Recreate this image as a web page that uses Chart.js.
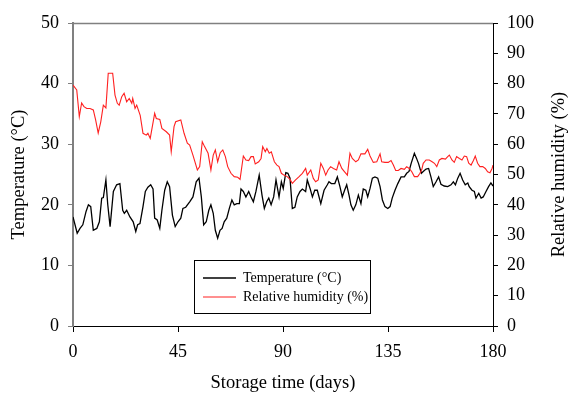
<!DOCTYPE html>
<html>
<head>
<meta charset="utf-8">
<script src="https://cdn.jsdelivr.net/npm/chart.js@4.4.1/dist/chart.umd.min.js"></script>
<style>
  html, body { margin: 0; padding: 0; background: #fff; }
  #wrap { width: 568px; height: 393px; }
</style>
</head>
<body>
<div id="wrap"><canvas id="chart" width="568" height="393"></canvas></div>
<script>
// storage time (days) and temperature (°C)
const tempDays = [
  0, 1.8, 3.0, 4.2, 5.6, 6.6, 7.6, 8.7, 10.2, 11.3,
  12.3, 13.0, 14.1, 14.9, 15.9, 17.3, 18.7, 20.1, 21.3, 22.0,
  23.0, 24.4, 25.8, 26.9, 27.7, 28.7, 30.0, 31.0, 32.1, 33.3,
  34.3, 35.0, 36.1, 37.2, 38.1, 39.3, 40.4, 41.4, 42.6, 43.8,
  45.0, 46.2, 47.1, 48.3, 50.0, 51.4, 52.8, 54.0, 55.0, 56.0,
  57.1, 58.2, 59.1, 60.1, 61.0, 62.0, 63.0, 63.9, 64.8, 65.9,
  67.0, 68.1, 69.1, 70.2, 71.3, 72.0, 73.0, 74.1, 75.3, 76.3,
  77.3, 78.4, 79.8, 81.0, 82.0, 83.0, 83.9, 84.9, 86.0, 87.0,
  88.3, 89.3, 90.1, 91.2, 92.1, 93.0, 94.0, 95.1, 96.1, 97.3,
  98.3, 99.7, 100.4, 101.6, 102.6, 103.6, 104.7, 106.2, 107.6, 109.0,
  109.7, 110.7, 112.2, 113.3, 114.4, 115.4, 116.4, 117.3, 118.3, 119.1,
  120.1, 121.2, 122.3, 123.4, 124.4, 125.5, 126.3, 127.3, 128.3, 129.4,
  130.6, 131.6, 132.6, 133.7, 134.9, 135.9, 136.8, 138.0, 139.2, 140.6,
  142.0, 143.0, 144.0, 144.9, 146.3, 147.2, 148.1, 149.3, 150.1, 151.3,
  152.4, 153.4, 154.4, 155.6, 156.7, 157.7, 159.1, 160.6, 162.0, 163.0,
  163.9, 164.9, 165.9, 167.0, 168.1, 169.2, 169.8, 171.0, 172.0, 172.7,
  173.9, 174.9, 175.8, 177.0, 178.1, 179.1, 180.0
];
const tempValues = [
  18.0, 15.3, 16.1, 16.7, 18.9, 20.0, 19.7, 15.8, 16.1, 17.2,
  21.1, 21.2, 24.1, 20.0, 16.4, 22.2, 23.3, 23.5, 19.1, 18.6,
  19.1, 18.0, 17.2, 15.6, 16.7, 16.9, 19.7, 22.2, 22.9, 23.3,
  22.6, 17.8, 17.5, 16.1, 19.1, 22.4, 23.8, 23.0, 18.3, 16.4,
  17.2, 17.8, 19.4, 19.6, 20.5, 21.3, 23.8, 24.4, 21.3, 16.7,
  17.2, 19.1, 20.0, 18.6, 15.8, 14.5, 15.8, 16.1, 17.2, 17.8,
  19.4, 20.8, 20.0, 20.2, 20.2, 22.6, 22.2, 21.3, 22.2, 21.3,
  20.5, 22.2, 24.9, 21.6, 19.4, 20.5, 21.1, 20.0, 21.3, 24.1,
  21.3, 23.8, 22.7, 25.3, 25.2, 24.4, 19.4, 19.6, 21.3, 22.2,
  22.6, 22.2, 24.1, 22.7, 21.3, 22.4, 22.4, 20.2, 22.4, 23.3,
  23.8, 23.5, 23.5, 24.6, 23.0, 21.3, 22.4, 23.3, 21.6, 20.0,
  19.1, 20.0, 21.6, 20.2, 22.6, 22.4, 21.3, 22.7, 24.4, 24.6,
  24.4, 23.0, 20.8, 19.7, 19.4, 19.7, 21.1, 22.4, 23.5, 24.6,
  24.6, 25.2, 25.5, 26.8, 28.5, 27.7, 26.8, 25.2, 25.5, 25.9,
  26.0, 24.6, 23.0, 23.8, 24.6, 23.4, 23.1, 23.0, 23.3, 23.8,
  23.3, 24.4, 25.2, 24.1, 23.3, 23.6, 23.0, 22.4, 22.2, 21.1,
  21.9, 21.1, 21.3, 22.2, 23.0, 23.6, 23.1
];

// storage time (days) and relative humidity (%)
const rhDays = [
  0, 1.6, 2.7, 3.7, 4.7, 5.9, 7.3, 8.7, 9.7, 10.8,
  11.9, 13.0, 14.1, 15.1, 17.0, 18.0, 19.0, 19.8, 20.9, 21.9,
  23.0, 24.1, 25.2, 25.6, 26.6, 27.3, 28.8, 30.0, 31.4, 32.1,
  33.1, 35.0, 35.7, 37.2, 38.1, 40.0, 41.4, 42.1, 43.3, 44.0,
  46.2, 47.6, 49.0, 50.0, 51.4, 53.3, 54.3, 55.4, 56.4, 57.9,
  59.1, 60.1, 61.0, 62.0, 63.1, 64.2, 65.3, 66.3, 67.7, 69.1,
  70.6, 71.6, 73.0, 74.1, 75.3, 76.3, 77.3, 78.1, 79.6, 80.6,
  81.3, 82.4, 83.1, 84.1, 85.0, 86.3, 87.4, 88.3, 89.3, 90.4,
  91.8, 93.0, 94.0, 95.4, 96.9, 98.3, 99.7, 100.4, 101.9, 103.0,
  104.0, 105.1, 106.2, 107.3, 108.3, 109.3, 110.4, 111.6, 113.0, 114.0,
  115.2, 116.4, 117.6, 118.7, 119.7, 121.2, 122.3, 123.4, 125.1, 126.3,
  127.3, 128.7, 130.2, 131.6, 132.3, 133.7, 135.1, 136.3, 137.3, 138.3,
  139.4, 140.6, 142.0, 143.0, 144.1, 145.2, 146.3, 147.7, 148.7, 149.5,
  150.1, 151.3, 152.7, 153.9, 154.9, 155.9, 157.0, 158.1, 159.6, 160.6,
  161.3, 162.4, 163.4, 164.4, 165.6, 166.7, 167.7, 168.7, 169.6, 170.6,
  171.6, 172.4, 173.4, 174.4, 175.6, 176.7, 177.7, 178.7, 179.6, 180.0
];
const rhValues = [
  79.5, 77.9, 69.1, 73.6, 72.4, 71.8, 71.8, 71.3, 68.0, 63.7,
  67.4, 72.9, 72.0, 83.4, 83.4, 76.2, 73.5, 72.9, 75.7, 76.8,
  74.0, 75.1, 73.5, 75.1, 71.8, 72.9, 69.5, 63.6, 63.0, 63.6,
  61.9, 70.2, 68.5, 68.2, 65.2, 64.1, 63.0, 57.5, 65.8, 67.4,
  68.0, 63.6, 60.3, 59.7, 56.4, 51.5, 52.6, 60.8, 59.2, 57.0,
  51.5, 56.4, 58.1, 54.2, 57.2, 58.1, 55.9, 52.6, 50.4, 49.3,
  49.1, 48.4, 56.1, 54.8, 54.6, 55.9, 55.9, 53.5, 54.2, 55.3,
  59.2, 57.5, 58.6, 57.0, 57.5, 54.2, 53.1, 52.6, 50.4, 49.8,
  49.3, 48.4, 47.1, 48.2, 49.3, 50.4, 52.0, 49.8, 51.5, 48.7,
  47.6, 48.2, 53.7, 52.0, 49.8, 51.5, 52.6, 52.0, 51.5, 54.2,
  52.0, 50.9, 49.8, 57.0, 55.3, 54.2, 54.8, 56.8, 56.8, 58.3,
  56.1, 54.0, 54.2, 56.8, 54.2, 54.0, 54.0, 54.6, 53.1, 51.3,
  51.3, 52.0, 51.7, 52.6, 52.0, 50.9, 49.3, 49.3, 50.4, 51.7,
  53.7, 54.8, 54.8, 54.2, 53.7, 52.6, 54.8, 55.3, 55.1, 55.9,
  56.4, 54.8, 54.0, 55.9, 55.3, 54.8, 56.1, 55.9, 53.7, 53.1,
  54.6, 56.1, 53.7, 52.6, 52.6, 52.0, 50.9, 50.6, 52.0, 53.1
];

const xTicks = [0, 45, 90, 135, 180];
const seriesNames = ['Temperature (°C)', 'Relative humidity (%)'];
const axisTitles = { x: 'Storage time (days)', left: 'Temperature (°C)', right: 'Relative humidity (%)' };

const SERIF = '"Liberation Serif", "Times New Roman", serif';
const tickFont = { family: SERIF, size: 18 };
const RED = '#ff2020';

const toPoints = (days, vals) => days.map((d, i) => ({ x: d, y: vals[i] }));

// titles, top frame line and the boxed legend
const decor = {
  id: 'decor',
  afterDraw(chart) {
    const { ctx, chartArea: a } = chart;
    ctx.save();
    // top frame
    ctx.strokeStyle = '#808080';
    ctx.lineWidth = 1.5;
    ctx.beginPath();
    ctx.moveTo(a.left, a.top + 0.5);
    ctx.lineTo(a.right, a.top + 0.5);
    ctx.stroke();

    ctx.fillStyle = '#000';
    ctx.font = '18.5px ' + SERIF;
    ctx.textAlign = 'center';
    ctx.textBaseline = 'middle';
    ctx.fillText(axisTitles.x, (a.left + a.right) / 2, 383);

    const midY = (a.top + a.bottom) / 2;
    ctx.save();
    ctx.translate(19, midY);
    ctx.rotate(-Math.PI / 2);
    ctx.fillText(axisTitles.left, 0, 0);
    ctx.restore();
    ctx.save();
    ctx.translate(559, midY);
    ctx.rotate(-Math.PI / 2);
    ctx.fillText(axisTitles.right, 0, 0);
    ctx.restore();

    // legend
    const bx = 194.5, by = 260.5, bw = 176, bh = 53;
    ctx.fillStyle = '#fff';
    ctx.fillRect(bx, by, bw, bh);
    ctx.strokeStyle = '#000';
    ctx.lineWidth = 1;
    ctx.strokeRect(bx, by, bw, bh);
    const rows = [{ c: '#000', y: 278 }, { c: RED, y: 297 }];
    ctx.font = '14px ' + SERIF;
    ctx.textAlign = 'left';
    rows.forEach((r, i) => {
      ctx.strokeStyle = r.c;
      ctx.lineWidth = i === 0 ? 1.3 : 1;
      ctx.beginPath();
      ctx.moveTo(203, r.y);
      ctx.lineTo(236, r.y);
      ctx.stroke();
      ctx.fillStyle = '#000';
      ctx.fillText(seriesNames[i], 243, r.y);
    });
    ctx.restore();
  }
};

new Chart(document.getElementById('chart'), {
  type: 'line',
  data: {
    datasets: [
      { label: seriesNames[0], data: toPoints(tempDays, tempValues), yAxisID: 'y',
        borderColor: '#000', borderWidth: 1.3, pointRadius: 0, tension: 0, order: 2 },
      { label: seriesNames[1], data: toPoints(rhDays, rhValues), yAxisID: 'y1',
        borderColor: RED, borderWidth: 1.1, pointRadius: 0, tension: 0, order: 1 }
    ]
  },
  options: {
    responsive: false,
    animation: false,
    layout: { padding: { top: 23, left: 0, right: 0, bottom: 0 } },
    plugins: { legend: { display: false }, tooltip: { enabled: false } },
    scales: {
      x: {
        type: 'linear', min: 0, max: 180,
        afterBuildTicks: s => { s.ticks = xTicks.map(v => ({ value: v })); },
        afterFit: s => { s.height = 67; },
        grid: { drawOnChartArea: false, tickLength: 6, color: '#000' },
        border: { color: '#000', width: 1 },
        ticks: { font: tickFont, color: '#000', padding: 9, maxRotation: 0 }
      },
      y: {
        position: 'left', min: 0, max: 50,
        afterFit: s => { s.width = 73; },
        grid: { drawOnChartArea: false, tickLength: 5, color: '#808080' },
        border: { color: '#808080', width: 2 },
        ticks: { stepSize: 10, font: tickFont, color: '#000', padding: 9 }
      },
      y1: {
        position: 'right', min: 0, max: 100,
        afterFit: s => { s.width = 75; },
        grid: { drawOnChartArea: false, tickLength: 5, color: '#000' },
        border: { color: '#000', width: 1 },
        ticks: { stepSize: 10, font: tickFont, color: '#000', padding: 9 }
      }
    }
  },
  plugins: [decor]
});
</script>
</body>
</html>
